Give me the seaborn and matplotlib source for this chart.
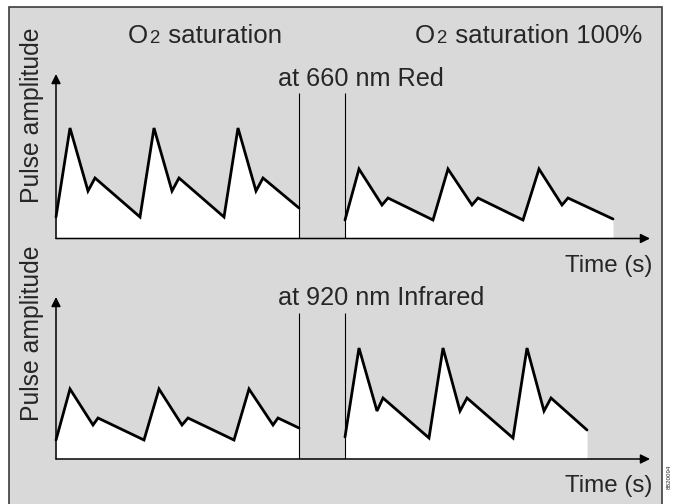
import numpy as np
import pandas as pd
import matplotlib
matplotlib.use("Agg")
import matplotlib.pyplot as plt
import seaborn as sns
from matplotlib.offsetbox import TextArea, HPacker, AnnotationBbox
from matplotlib.patches import Rectangle

# Pulse waveforms (time in arbitrary units, amplitude in arbitrary units)
# Red light, 660 nm
red_low_t = [0.0, 1.4, 3.2, 3.9, 8.4, 9.8, 11.6, 12.3, 16.8, 18.2, 20.0, 20.7, 24.3]
red_low_a = [2.15, 11.05, 4.75, 6.05, 2.15, 11.05, 4.75, 6.05, 2.15, 11.05, 4.75, 6.05, 3.05]
red_full_t = [28.9, 30.3, 32.6, 33.2, 37.7, 39.2, 41.6, 42.2, 46.7, 48.3, 50.6, 51.2, 55.7]
red_full_a = [1.85, 6.95, 3.35, 4.05, 1.85, 6.95, 3.35, 4.05, 1.85, 6.95, 3.35, 4.05, 1.95]

# Infrared light, 920 nm
ir_low_t = [0.0, 1.4, 3.7, 4.2, 8.8, 10.3, 12.6, 13.2, 17.8, 19.3, 21.7, 22.2, 24.3]
ir_low_a = [1.9, 7.0, 3.4, 4.1, 1.9, 7.0, 3.4, 4.1, 1.9, 7.0, 3.4, 4.1, 3.1]
ir_full_t = [28.9, 30.3, 32.1, 32.7, 37.3, 38.7, 40.4, 41.1, 45.7, 47.1, 48.8, 49.5, 53.1]
ir_full_a = [2.2, 11.1, 4.8, 6.1, 2.1, 11.1, 4.8, 6.1, 2.1, 11.1, 4.8, 6.1, 2.9]

panel_titles = ["at 660 nm Red", "at 920 nm Infrared"]
left_title = ("O", "2", " saturation")
right_title = ("O", "2", " saturation 100%")
y_label = "Pulse amplitude"
x_label = "Time (s)"
figure_code = "8820094"

sns.set_style("white")
plt.rcParams["font.family"] = ["Liberation Sans", "DejaVu Sans"]

W, H = 675, 504
fig = plt.figure(figsize=(W / 100, H / 100), dpi=100)
fig.patch.set_facecolor("white")


def fx(px):
    return px / W


def fy(py):
    return 1 - py / H


# grey backdrop with frame
fig.add_artist(Rectangle((fx(9), fy(530)), fx(662) - fx(9), fy(7) - fy(530),
                         transform=fig.transFigure, facecolor="#d9d9d9",
                         edgecolor="#3c3c3c", lw=1.2, zorder=0))

XMAX = 59.4


def draw_panel(rect, t1, a1, t2, a2, divider_top, ymax):
    ax = fig.add_axes(rect)
    ax.set_xlim(0, XMAX)
    ax.set_ylim(0, ymax)
    ax.patch.set_visible(False)
    for sp in ax.spines.values():
        sp.set_visible(False)
    ax.set_xticks([])
    ax.set_yticks([])
    for t, a in ((t1, a1), (t2, a2)):
        ax.fill_between(t, a, 0, color="white", lw=0, zorder=1)
        sns.lineplot(x=t, y=a, ax=ax, color="black", lw=2.0, sort=False,
                     estimator=None, solid_joinstyle="miter", zorder=3,
                     clip_on=False)
    ax.vlines([t1[-1], t2[0]], 0, divider_top, color="black", lw=0.8, zorder=2)
    arrow = dict(arrowstyle="-|>", lw=1.1, color="black", mutation_scale=14,
                 shrinkA=0, shrinkB=0)
    ax.annotate("", xy=(1, 0), xytext=(0, 0), xycoords="axes fraction",
                arrowprops=arrow, zorder=4)
    ax.annotate("", xy=(0, 1), xytext=(0, 0), xycoords="axes fraction",
                arrowprops=arrow, zorder=4)
    ax.set_xlabel("")
    ax.set_ylabel("")
    return ax


# top panel: baseline at y=238.5 px, arrow tip at 74 px
draw_panel([fx(56), fy(238.5), fx(650) - fx(56), fy(74) - fy(238.5)],
           red_low_t, red_low_a, red_full_t, red_full_a, 14.55, 16.45)
# bottom panel: baseline at y=459 px, arrow tip at 297 px
draw_panel([fx(56), fy(459), fx(650) - fx(56), fy(297) - fy(459)],
           ir_low_t, ir_low_a, ir_full_t, ir_full_a, 14.6, 16.2)

FS_TITLE = 18.6
FS_PANEL = 18.2
FS_YLAB = 17.8
FS_XLAB = 17.4


def subscript_title(parts, x, y, halign):
    boxes = [TextArea(parts[0], textprops=dict(size=FS_TITLE)),
             TextArea(parts[1], textprops=dict(size=FS_TITLE * 0.72)),
             TextArea(parts[2], textprops=dict(size=FS_TITLE))]
    pack = HPacker(children=boxes, align="baseline", pad=0, sep=1)
    ab = AnnotationBbox(pack, (fx(x), fy(y)), xycoords="figure fraction",
                        box_alignment=(halign, 0.5), frameon=False, pad=0)
    fig.add_artist(ab)


subscript_title(left_title, 128, 36, 0.0)
subscript_title(right_title, 642, 36, 1.0)

fig.text(fx(278), fy(86), panel_titles[0], ha="left", va="baseline", size=FS_PANEL)
fig.text(fx(278), fy(305), panel_titles[1], ha="left", va="baseline", size=FS_PANEL)

fig.text(fx(32), fy(115), y_label, rotation=90, ha="center", va="center", size=FS_YLAB)
fig.text(fx(32), fy(333), y_label, rotation=90, ha="center", va="center", size=FS_YLAB)

fig.text(fx(652), fy(272), x_label, ha="right", va="baseline", size=FS_XLAB)
fig.text(fx(652), fy(492), x_label, ha="right", va="baseline", size=FS_XLAB)

fig.text(fx(669), fy(477), figure_code, rotation=90, ha="center", va="center",
         size=4.5)

fig.savefig("out.png", dpi=100)
